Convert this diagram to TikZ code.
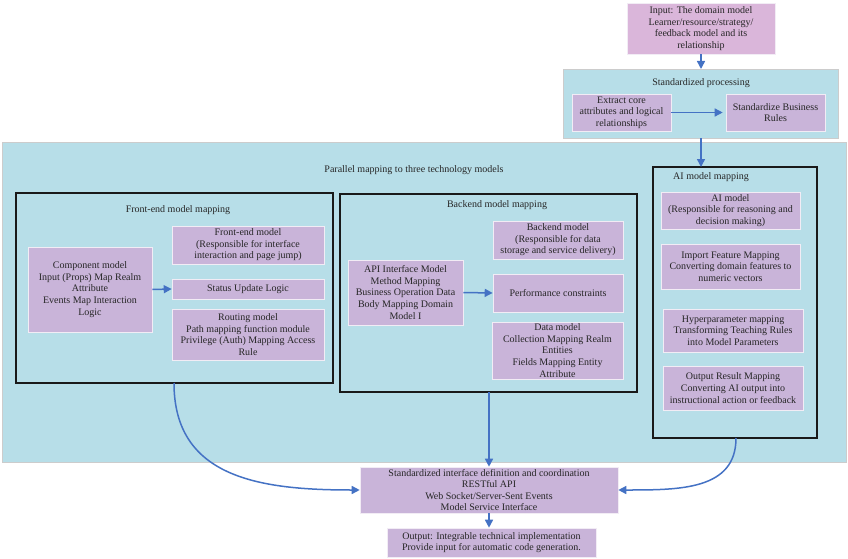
\documentclass[tikz,border=0pt]{standalone}
\usepackage{fontspec}
\setmainfont{Liberation Serif}
\usetikzlibrary{arrows.meta}
\definecolor{boxc}{HTML}{C9B4D9}
\definecolor{inc}{HTML}{DAB6DA}
\definecolor{bgc}{HTML}{B7DEE8}
\definecolor{arc}{HTML}{4472C4}
\tikzset{
  pbox/.style={fill=boxc, draw=white!75!boxc, line width=0.6pt, align=center, inner sep=0.5pt,
    font=\fontsize{10}{11.6}\selectfont, text=black!85},
  frame/.style={draw=black!90, line width=2.2pt},
  bgbox/.style={fill=bgc, draw=black!20, line width=0.8pt},
  ttl/.style={font=\fontsize{10}{11.6}\selectfont, text=black!85, inner sep=0pt},
  arr/.style={draw=arc, line width=1.5pt, -{Triangle[length=8pt,width=8pt]}},
}
\begin{document}
\begin{tikzpicture}[x=1pt,y=-1pt]
\useasboundingbox (0,0) rectangle (848,559);
% backgrounds
\path[bgbox] (563,69) rectangle (838,138);
\path[bgbox] (2,142) rectangle (846,462);
\node[ttl] (stdt) at (701,83) {Standardized processing};
\node[ttl] (part) at (414,170) {Parallel mapping to three technology models};
% frames
\draw[frame] (16,193) rectangle (333,383);
\draw[frame] (340,194) rectangle (637,392);
\draw[frame] (653,167) rectangle (817,438);
\coordinate (frontS) at (174,383);
\coordinate (backS) at (489,392);
\coordinate (aiN) at (701,167);
\coordinate (aiS) at (736,438);
\coordinate (stdS) at (701,138);
\coordinate (stdN) at (701,69);
\node[ttl] (fet) at (178,210) {Front-end model mapping};
\node[ttl] (bet) at (497,205) {Backend model mapping};
\node[ttl] (ait) at (711,177) {AI model mapping};
% boxes
\node[pbox, fill=inc, minimum width=148pt, minimum height=51pt] (input) at (701,28.5)
  {Input: The domain model\\Learner/resource/strategy/\\feedback model and its\\relationship};
\node[pbox, minimum width=99pt, minimum height=37pt] (extract) at (621.5,112.5)
  {Extract core\\attributes and logical\\relationships};
\node[pbox, minimum width=99pt, minimum height=37pt] (stdbiz) at (775.5,112.5)
  {Standardize Business\\Rules};
\node[pbox, minimum width=124pt, minimum height=85pt] (comp) at (90,289.5)
  {Component model\\Input (Props) Map Realm\\Attribute\\Events Map Interaction\\Logic};
\node[pbox, minimum width=152pt, minimum height=38pt] (femodel) at (248,245)
  {Front-end model\\(Responsible for interface\\interaction and page jump)};
\node[pbox, minimum width=152pt, minimum height=20pt] (status) at (248,289)
  {Status Update Logic};
\node[pbox, minimum width=152pt, minimum height=51pt] (routing) at (248,334.5)
  {Routing model\\Path mapping function module\\Privilege (Auth) Mapping Access\\Rule};
\node[pbox, minimum width=130pt, minimum height=38pt] (bemodel) at (558,240)
  {Backend model\\(Responsible for data\\storage and service delivery)};
\node[pbox, minimum width=115pt, minimum height=65pt] (api) at (405.5,292.5)
  {API Interface Model\\Method Mapping\\Business Operation Data\\Body Mapping Domain\\Model I};
\node[pbox, minimum width=130pt, minimum height=38pt] (perf) at (558,293)
  {Performance constraints};
\node[pbox, minimum width=131pt, minimum height=57pt] (datam) at (557.5,350.5)
  {Data model\\Collection Mapping Realm\\Entities\\Fields Mapping Entity\\Attribute};
\node[pbox, minimum width=139pt, minimum height=37pt] (aimodel) at (730.5,210.5)
  {AI model\\(Responsible for reasoning and\\decision making)};
\node[pbox, minimum width=139pt, minimum height=45pt] (import) at (730.5,266.5)
  {Import Feature Mapping\\Converting domain features to\\numeric vectors};
\node[pbox, minimum width=140pt, minimum height=43pt] (hyper) at (733,330.5)
  {Hyperparameter mapping\\Transforming Teaching Rules\\into Model Parameters};
\node[pbox, minimum width=140pt, minimum height=44pt] (outres) at (733,388)
  {Output Result Mapping\\Converting AI output into\\instructional action or feedback};
\node[pbox, minimum width=258pt, minimum height=46pt] (iface) at (489,490)
  {Standardized interface definition and coordination\\RESTful API\\Web Socket/Server-Sent Events\\Model Service Interface};
\node[pbox, minimum width=209pt, minimum height=29pt] (output) at (491.5,542.5)
  {Output: Integrable technical implementation\\Provide input for automatic code generation.};
% arrows
\draw[arr] (input.south) -- (stdN);
\draw[arr] (stdS) -- (aiN);
\draw[arr] (extract.east) -- ([xshift=-3pt]stdbiz.west);
\draw[arr] (comp.east) -- (status.west);
\draw[arr] (api.east) -- (perf.west);
\draw[arr] (backS) -- (backS |- iface.north);
\draw[arr] (frontS) .. controls (174,478) and (260,490) .. (iface.west);
\draw[arr] (aiS) .. controls (736,490) and (680,490) .. (iface.east);
\draw[arr] (iface.south -| backS) -- (output.north -| backS);
\end{tikzpicture}
\end{document}
